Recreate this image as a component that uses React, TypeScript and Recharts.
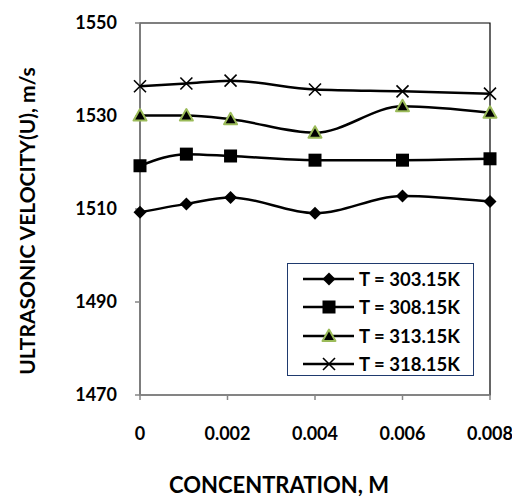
import React from "react";
import {
  Label,
  Legend,
  Line,
  LineChart,
  ReferenceArea,
  XAxis,
  YAxis,
} from "recharts";

const concentration = [0, 0.00106, 0.00207, 0.004, 0.006, 0.008];
const u303 = [1509.3, 1511.1, 1512.5, 1509.1, 1512.8, 1511.6];
const u308 = [1519.3, 1521.8, 1521.4, 1520.5, 1520.5, 1520.8];
const u313 = [1530.1, 1530.1, 1529.3, 1526.4, 1532.1, 1530.7];
const u318 = [1536.4, 1537.0, 1537.6, 1535.7, 1535.3, 1534.8];

const xTicks = [0, 0.002, 0.004, 0.006, 0.008];
const yTicks = [1470, 1490, 1510, 1530, 1550];

const seriesNames = ["T = 303.15K", "T = 308.15K", "T = 313.15K", "T = 318.15K"];
const seriesKeys = ["t303", "t308", "t313", "t318"];
const seriesShapes = ["diamond", "square", "triangle", "cross"];

const data = concentration.map((c, i) => ({
  c,
  t303: u303[i],
  t308: u308[i],
  t313: u313[i],
  t318: u318[i],
}));

const FONT = "Lato, 'Open Sans', sans-serif";
const AXIS_GRAY = "#868686";

function Marker({ shape, cx, cy }: { shape: string; cx: number; cy: number }) {
  if (shape === "diamond") {
    return (
      <polygon
        points={`${cx},${cy - 6.5} ${cx + 6.5},${cy} ${cx},${cy + 6.5} ${cx - 6.5},${cy}`}
        fill="#000"
      />
    );
  }
  if (shape === "square") {
    return <rect x={cx - 6.5} y={cy - 6.5} width={13} height={13} fill="#000" />;
  }
  if (shape === "triangle") {
    return (
      <polygon
        points={`${cx},${cy - 6.5} ${cx + 6.5},${cy + 5} ${cx - 6.5},${cy + 5}`}
        fill="#000"
        stroke="#9BBB59"
        strokeWidth={2}
        strokeLinejoin="round"
      />
    );
  }
  return (
    <g stroke="#000" strokeWidth={1.6}>
      <line x1={cx - 6} y1={cy - 6} x2={cx + 6} y2={cy + 6} />
      <line x1={cx - 6} y1={cy + 6} x2={cx + 6} y2={cy - 6} />
    </g>
  );
}

function makeDot(shape: string) {
  return (props: any) => {
    const { cx, cy, index } = props;
    if (cx == null || cy == null) return <g key={index} />;
    return (
      <g key={`${shape}-${index}`}>
        <Marker shape={shape} cx={cx} cy={cy} />
      </g>
    );
  };
}

function LegendBox() {
  return (
    <div
      style={{
        width: 187,
        height: 113,
        border: "1.5px solid #1F3A6E",
        boxSizing: "border-box",
        background: "#fff",
        paddingTop: 1,
      }}
    >
      {seriesNames.map((name, i) => (
        <div
          key={name}
          style={{ display: "flex", alignItems: "center", height: 28.3, marginLeft: 14 }}
        >
          <svg width={54} height={20} style={{ display: "block" }}>
            <line x1={1} y1={10} x2={52} y2={10} stroke="#000" strokeWidth={2.5} />
            <Marker shape={seriesShapes[i]} cx={27} cy={10} />
          </svg>
          <span
            style={{
              fontFamily: FONT,
              fontWeight: 700,
              fontSize: 18.5,
              color: "#000",
              marginLeft: 3,
              whiteSpace: "nowrap",
            }}
          >
            {name}
          </span>
        </div>
      ))}
    </div>
  );
}

export default function App() {
  const tickStyle = { fontFamily: FONT, fontSize: 18, fontWeight: 700, fill: "#000" };
  return (
    <div style={{ position: "absolute", left: 0, top: 0, background: "#fff" }}>
      <LineChart
        width={512}
        height={497}
        data={data}
        margin={{ top: 23, right: 22, bottom: 0, left: 0 }}
      >
        <ReferenceArea
          x1={0}
          x2={0.008}
          y1={1470}
          y2={1550}
          fill="#fff"
          fillOpacity={0}
          stroke="#000"
          strokeWidth={1.2}
        />
        <XAxis
          dataKey="c"
          type="number"
          domain={[0, 0.008]}
          ticks={xTicks}
          tickFormatter={(v: number) => String(v)}
          height={102}
          stroke={AXIS_GRAY}
          strokeWidth={1.5}
          tickSize={5}
          tickMargin={27}
          tick={tickStyle}
        >
          <Label
            content={() => (
              <text
                x={279}
                y={484}
                textAnchor="middle"
                dominantBaseline="central"
                fontFamily={FONT}
                fontWeight={700}
                fontSize={22}
                fill="#000"
              >
                CONCENTRATION, M
              </text>
            )}
          />
        </XAxis>
        <YAxis
          type="number"
          domain={[1470, 1550]}
          ticks={yTicks}
          width={140}
          stroke={AXIS_GRAY}
          strokeWidth={1.5}
          tickSize={5}
          tickMargin={18}
          tick={tickStyle}
        >
          <Label
            content={() => (
              <text
                x={26}
                y={221}
                transform="rotate(-90 26 221)"
                textAnchor="middle"
                dominantBaseline="central"
                fontFamily={FONT}
                fontWeight={700}
                fontSize={21}
                fill="#000"
              >
                ULTRASONIC VELOCITY(U), m/s
              </text>
            )}
          />
        </YAxis>
        {seriesKeys.map((k, i) => (
          <Line
            key={k}
            dataKey={k}
            name={seriesNames[i]}
            type="monotone"
            stroke="#000"
            strokeWidth={2.5}
            dot={makeDot(seriesShapes[i])}
            activeDot={false}
            isAnimationActive={false}
          />
        ))}
        <Legend
          layout="horizontal"
          align="center"
          verticalAlign="middle"
          content={() => <LegendBox />}
          wrapperStyle={{ left: 287, top: 263, width: 187, height: 113 }}
        />
      </LineChart>
    </div>
  );
}
